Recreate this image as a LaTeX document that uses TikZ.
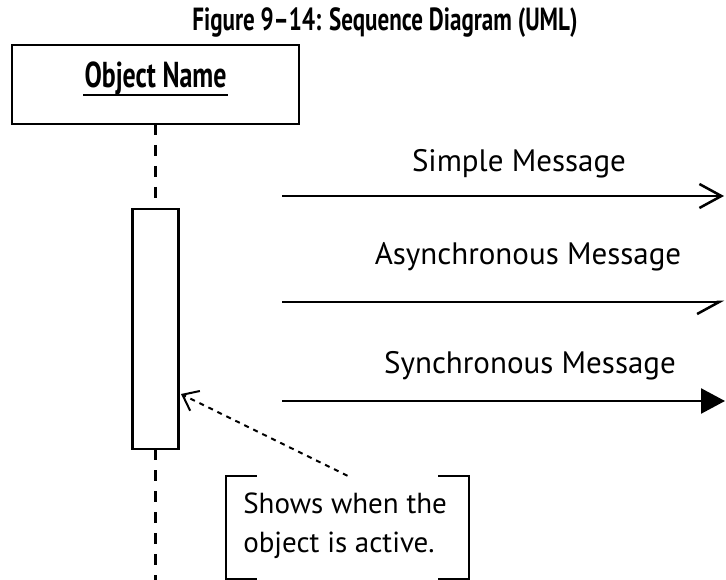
\documentclass[tikz,border=0pt]{standalone}
\usepackage{fontspec}
\setmainfont{PT Sans}
\newfontfamily\condfont[FakeStretch=0.72]{PT Sans}
\usetikzlibrary{arrows.meta, positioning, calc}

\begin{document}
\begin{tikzpicture}[
    x=1pt, y=-1pt,
    line width=2.5pt,
    objbox/.style={rectangle, draw=black, line width=2.5pt, minimum width=287pt, minimum height=79pt, outer sep=0pt},
    actbox/.style={rectangle, draw=black, line width=2.5pt, minimum width=46pt, minimum height=240pt, outer sep=0pt},
    heading/.style={font=\condfont\bfseries\fontsize{32}{34}\selectfont, inner sep=0pt},
    objlabel/.style={font=\condfont\bfseries\fontsize{36}{38}\selectfont, inner sep=0pt},
    msglabel/.style={font=\fontsize{31}{34}\selectfont, inner sep=0pt},
    notetext/.style={font=\fontsize{29}{39}\selectfont, align=left, inner sep=0pt},
    lifeline/.style={dash pattern=on 11pt off 10pt},
    pointer/.style={line width=2pt, dash pattern=on 5pt off 5pt, -{Straight Barb[length=14pt, width=22pt]}}
]
    \useasboundingbox (0,0) rectangle (726,580);

    \node[heading, anchor=base] (title) at (385,31) {Figure 9\textendash 14: Sequence Diagram (UML)};

    % objeto y linea de vida
    \node[objbox] (obj) at (155.5,84.5) {};
    \node[objlabel, anchor=base] (objname) at (155.5,88) {Object Name};
    \draw[line width=2pt] ([yshift=-7pt]objname.base west) -- ([yshift=-7pt]objname.base east);
    \node[actbox] (act) at (155.5,329) {};
    \coordinate (lifeend) at (155.5,580);
    \draw[lifeline] (obj.south) -- (act.north);
    \draw[lifeline] (act.south) -- (lifeend);

    % mensajes
    \coordinate (simple from) at (282,196);
    \coordinate (simple to) at (724,196);
    \coordinate (async from) at (282,302);
    \coordinate (async to) at (724,302);
    \coordinate (sync from) at (282,401);
    \coordinate (sync to) at (725,401);
    \draw[-{Straight Barb[length=22pt, width=24pt]}] (simple from) -- (simple to);
    \draw[-{Straight Barb[harpoon, swap, length=22pt, width=24pt]}] (async from) -- (async to);
    \draw[-{Triangle[length=24pt, width=25pt]}] (sync from) -- (sync to);
    \node[msglabel, anchor=base] (simple) at (519,172) {Simple Message};
    \node[msglabel, anchor=base] (async) at (528,265) {Asynchronous Message};
    \node[msglabel, anchor=base] (sync) at (530,373) {Synchronous Message};

    % nota
    \node[minimum width=241pt, minimum height=101pt, inner sep=0pt] (note) at (347.5,527.5) {};
    \node[notetext, anchor=base west] (notebody) at (242,552) {Shows when the\\object is active.};
    \draw[line width=2pt] ([xshift=31pt]note.north west) -- (note.north west) -- (note.south west) -- ([xshift=31pt]note.south west);
    \draw[line width=2pt] ([xshift=-31pt]note.north east) -- (note.north east) -- (note.south east) -- ([xshift=-31pt]note.south east);
    \coordinate (actpoint) at (181,394);
    \draw[pointer] (note.north) -- (actpoint);
\end{tikzpicture}
\end{document}
